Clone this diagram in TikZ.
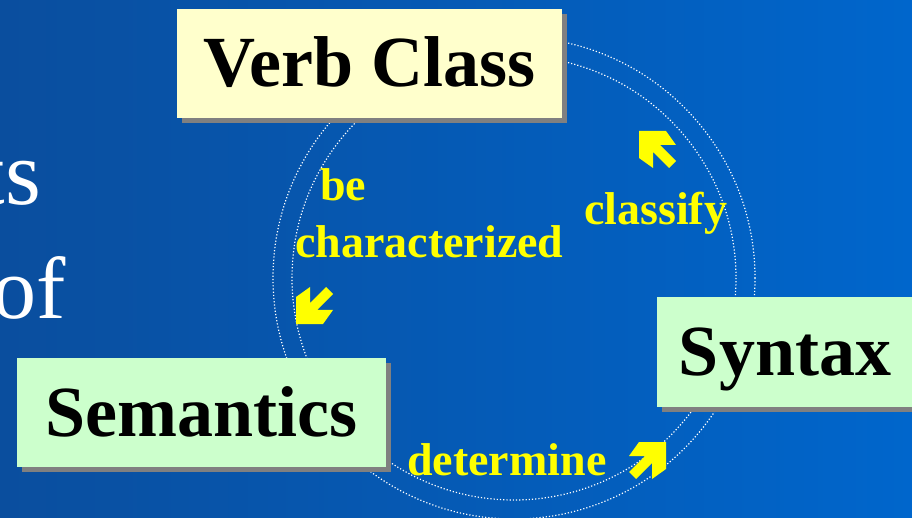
\documentclass[tikz,border=0pt]{standalone}
\usepackage{fontspec}
\setmainfont{Liberation Serif}
\usetikzlibrary{shadows}

\definecolor{bgleft}{RGB}{10,78,158}
\definecolor{bgright}{RGB}{0,102,204}
\definecolor{boxyellow}{RGB}{255,255,204}
\definecolor{boxgreen}{RGB}{204,255,204}
\definecolor{shadowgray}{RGB}{128,128,128}
\definecolor{labelyellow}{RGB}{255,255,0}

\tikzset{
  termbox/.style={fill=#1, inner sep=0pt, text height=47pt, text depth=0pt,
    minimum height=109pt, font=\fontsize{72}{80}\selectfont\bfseries,
    drop shadow={shadow xshift=5pt, shadow yshift=-5pt, fill=shadowgray, opacity=1}},
  verblabel/.style={inner sep=0pt, anchor=base west, text=labelyellow,
    font=\fontsize{46}{52}\selectfont\bfseries},
  ring/.style={white, line width=1.2pt, dash pattern=on 1.2pt off 2pt},
  yarrow/.pic={\fill[labelyellow] (0,0) -- (27,0) -- (37,14) -- (21,14) -- (37,30)
    -- (30,37) -- (14,21) -- (14,37) -- (0,27) -- cycle;}
}

\begin{document}
\begin{tikzpicture}[x=1pt, y=-1pt]
\useasboundingbox (0,0) rectangle (912,518);
\clip (0,0) rectangle (912,518);
\shade[left color=bgleft, right color=bgright] (0,0) rectangle (912,518);

\node[white, inner sep=0pt, anchor=base east, font=\fontsize{92}{100}\selectfont] (ts) at (41,205) {ts};
\node[white, inner sep=0pt, anchor=base east, font=\fontsize{88}{96}\selectfont] (of) at (66,318) {of};

\coordinate (hub) at (514,278);
\draw[ring] (hub) circle (241);
\draw[ring] (hub) circle (222);

\node[termbox=boxyellow, minimum width=385pt] (verb) at (369.5,63.5) {Verb Class};
\node[termbox=boxgreen, minimum width=256pt, minimum height=110pt] (syntax) at (785,352) {Syntax};
\node[termbox=boxgreen, minimum width=369pt] (sem) at (201.5,412.5) {Semantics};

\node[verblabel] (be) at (320,201) {be};
\node[verblabel] (charact) at (295,258) {characterized};
\node[verblabel] (classify) at (584,225) {classify};
\node[verblabel] (determine) at (407,475) {determine};

\pic at (639,131) {yarrow};
\pic[yscale=-1] at (296,324) {yarrow};
\pic[xscale=-1] at (666,442) {yarrow};
\end{tikzpicture}
\end{document}
